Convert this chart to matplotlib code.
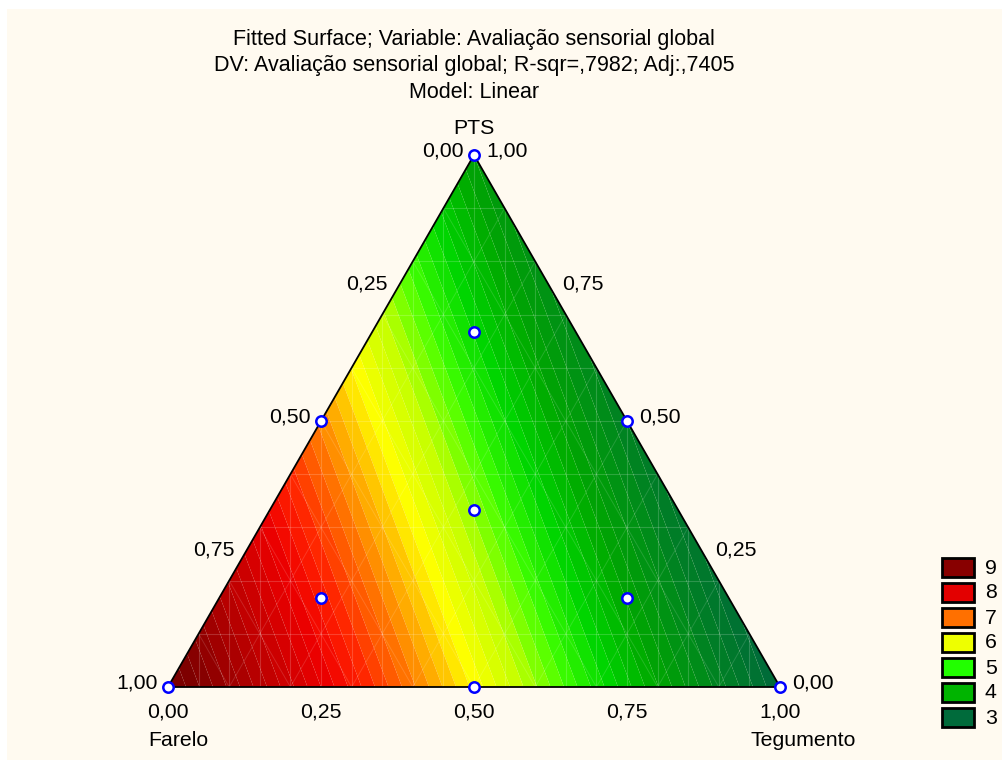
import numpy as np
import matplotlib
matplotlib.use('Agg')
import matplotlib.pyplot as plt
import matplotlib.tri as mtri
from matplotlib.colors import LinearSegmentedColormap, Normalize
from matplotlib.patches import Rectangle, Polygon

plt.rcParams['font.family'] = ['Liberation Sans', 'DejaVu Sans']

# ---------------- data ----------------
title_lines = ["Fitted Surface; Variable: Avaliação sensorial global",
               "DV: Avaliação sensorial global; R-sqr=,7982; Adj:,7405",
               "Model: Linear"]
components = ["Farelo", "PTS", "Tegumento"]
coef = [9.4, 3.8, 2.6]          # linear model coefficients (Farelo, PTS, Tegumento)
design_F = [1, 0, 0, 0.5, 0.5, 0, 1/3, 2/3, 1/6, 1/6]
design_P = [0, 1, 0, 0.5, 0, 0.5, 1/3, 1/6, 2/3, 1/6]
design_T = [0, 0, 1, 0, 0.5, 0.5, 1/3, 1/6, 1/6, 2/3]
tick_vals = [0.0, 0.25, 0.5, 0.75, 1.0]
tick_labels = ["0,00", "0,25", "0,50", "0,75", "1,00"]
legend_labels = ["9", "8", "7", "6", "5", "4", "3"]
legend_colors = ["#880000", "#E30000", "#FF7000", "#EEFF00", "#22FF00", "#00B400", "#006B3B"]
cmap_values = [2.6, 3.28, 3.96, 4.5, 4.98, 5.46, 6.0, 6.35, 6.79, 7.23, 7.6, 8.49, 9.06, 9.4]
cmap_colors = ["#006A3A", "#008420", "#00A800", "#00D800", "#40FF00", "#C0FF00", "#FFFF00",
               "#FFB800", "#FF6800", "#FF2000", "#EE0000", "#B00000", "#800000", "#780000"]

W, H = 1003, 760
BG = '#FFFAF0'
h = np.sqrt(3) / 2

def to_xy(F, P, T):
    F, P, T = np.asarray(F, float), np.asarray(P, float), np.asarray(T, float)
    return T + P / 2, P * h

fig = plt.figure(figsize=(W / 100, H / 100), dpi=100, facecolor='white')
fig.patches.append(Rectangle((7 / W, 0), 1 - 7 / W, 1 - 9 / H, transform=fig.transFigure,
                             facecolor=BG, edgecolor='none', zorder=-10))

ax = fig.add_axes([168 / W, 73 / H, 612 / W, 532 / H])
ax.set_xlim(0, 1)
ax.set_ylim(0, h)
ax.axis('off')

# triangulated composition grid
n = 60
Fs, Ps = [], []
for i in range(n + 1):
    for j in range(n + 1 - i):
        Fs.append(i / n); Ps.append(j / n)
Fs = np.array(Fs); Ps = np.array(Ps); Ts = 1 - Fs - Ps
Ts[Ts < 0] = 0
x, y = to_xy(Fs, Ps, Ts)
tri = mtri.Triangulation(x, y)
z = coef[0] * Fs + coef[1] * Ps + coef[2] * Ts

vmin, vmax = cmap_values[0], cmap_values[-1]
cmap = LinearSegmentedColormap.from_list(
    'stat', [((v - vmin) / (vmax - vmin), c) for v, c in zip(cmap_values, cmap_colors)])
norm = Normalize(vmin, vmax)
levels = np.arange(2.45, 9.61, 0.15)
mids = (levels[:-1] + levels[1:]) / 2
band_colors = [cmap(norm(np.clip(m, vmin, vmax))) for m in mids]
cs = ax.tricontourf(tri, z, levels=levels, colors=band_colors, antialiased=True)

# faint mesh lines
tri_poly = Polygon([(0, 0), (1, 0), (0.5, h)], closed=True, transform=ax.transData,
                   facecolor='none', edgecolor='none')
ax.add_patch(tri_poly)
mesh = []
for k in range(1, 20):
    mesh += ax.plot([k / 20, k / 20], [0, h], color='white', lw=0.8, alpha=0.18)
for k in range(1, 10):
    mesh += ax.plot([0, 1], [k * h / 10, k * h / 10], color='white', lw=0.8, alpha=0.18)
for k in range(-10, 21):
    x0 = k / 10
    mesh += ax.plot([x0, x0 + 0.5], [0, h], color='white', lw=0.7, alpha=0.14)
    mesh += ax.plot([x0, x0 - 0.5], [0, h], color='white', lw=0.7, alpha=0.14)
for ln in mesh:
    ln.set_clip_path(tri_poly)

# triangle outline
ax.add_patch(Polygon([(0, 0), (1, 0), (0.5, h)], closed=True, facecolor='none',
                     edgecolor='black', lw=1.3, zorder=4, clip_on=False))

# design points
dx, dy = to_xy(design_F, design_P, design_T)
ax.plot(dx, dy, 'o', ms=7.5, mfc='white', mec='#0000FF', mew=1.8, zorder=6, clip_on=False)

fs_tick = 15.3
# bottom axis (Tegumento fraction)
for v, lab in zip(tick_vals, tick_labels):
    px, py = to_xy(1 - v, 0, v)
    ax.annotate(lab, (px, py), xytext=(0, -25), textcoords='offset pixels',
                ha='center', va='center', fontsize=fs_tick, annotation_clip=False)
# left edge (Farelo fraction)
for v, lab in zip(tick_vals, tick_labels):
    px, py = to_xy(v, 1 - v, 0)
    ax.annotate(lab, (px, py), xytext=(-10, 4), textcoords='offset pixels',
                ha='right', va='center', fontsize=fs_tick, annotation_clip=False)
# right edge (PTS fraction)
for v, lab in zip(tick_vals, tick_labels):
    px, py = to_xy(0, v, 1 - v)
    ax.annotate(lab, (px, py), xytext=(12, 4), textcoords='offset pixels',
                ha='left', va='center', fontsize=fs_tick, annotation_clip=False)

# component names
px, py = to_xy(0, 1, 0)
ax.annotate(components[1], (px, py), xytext=(0, 27), textcoords='offset pixels',
            ha='center', va='center', fontsize=fs_tick, annotation_clip=False)
px, py = to_xy(1, 0, 0)
ax.annotate(components[0], (px, py), xytext=(10, -54), textcoords='offset pixels',
            ha='center', va='center', fontsize=fs_tick, annotation_clip=False)
px, py = to_xy(0, 0, 1)
ax.annotate(components[2], (px, py), xytext=(23, -54), textcoords='offset pixels',
            ha='center', va='center', fontsize=fs_tick, annotation_clip=False)

# titles
for i, line in enumerate(title_lines):
    fig.text(474 / W, 1 - (39 + 26.5 * i) / H, line, ha='center', va='center', fontsize=15.5)

# legend (pixel-coordinate overlay)
lax = fig.add_axes([0, 0, 1, 1], facecolor='none')
lax.set_xlim(0, W)
lax.set_ylim(H, 0)
lax.axis('off')
for i, (lab, col) in enumerate(zip(legend_labels, legend_colors)):
    top = 558 + 25 * i
    lax.add_patch(Rectangle((942, top), 32, 19, facecolor=col, edgecolor='black', lw=2))
    lax.text(985, top + 10, lab, ha='left', va='center', fontsize=fs_tick)

fig.savefig('out.png', dpi=100, facecolor=fig.get_facecolor())
